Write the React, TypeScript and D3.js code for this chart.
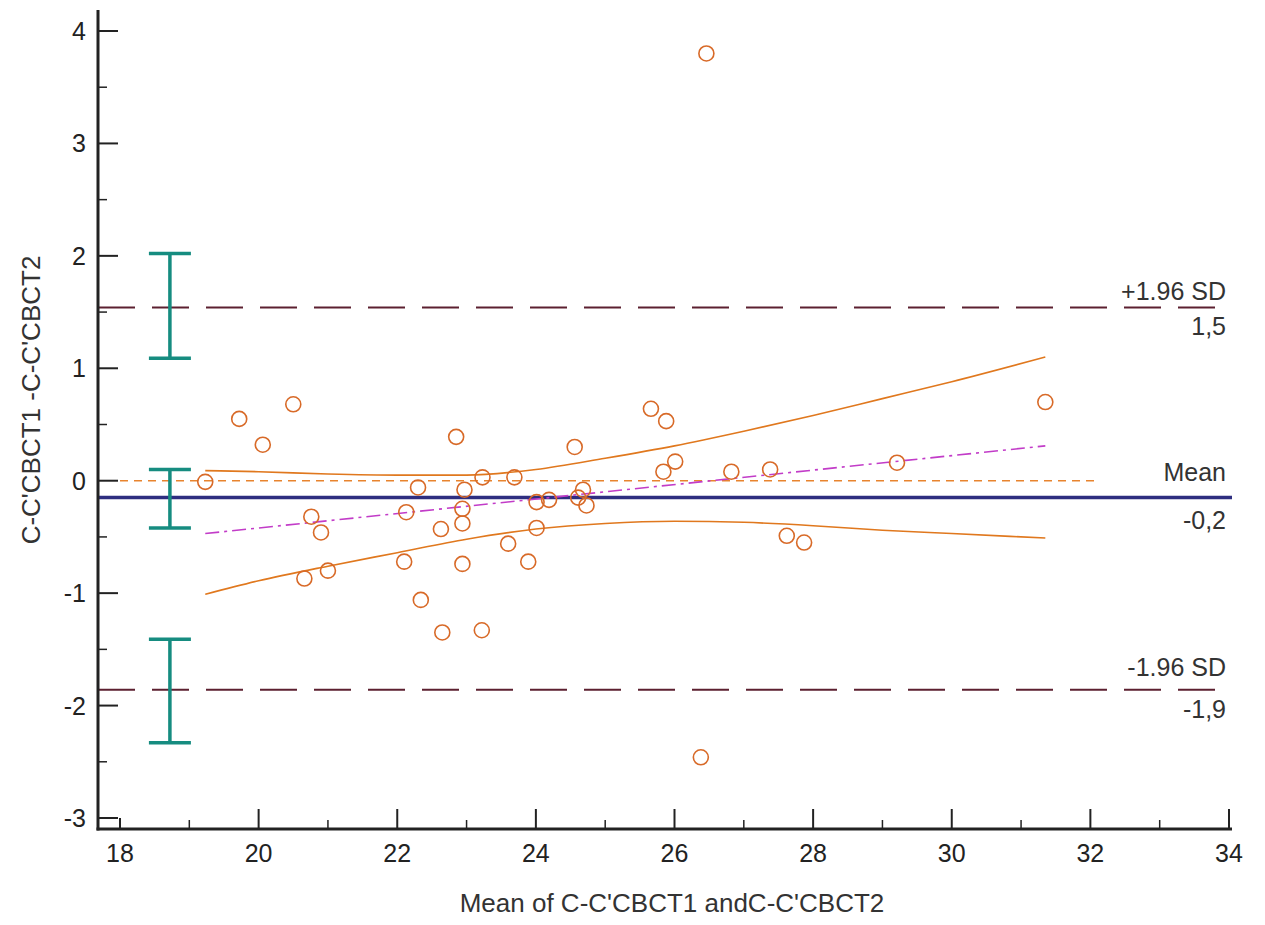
import React from "react";
import * as d3 from "d3";

const xTicks = [18, 20, 22, 24, 26, 28, 30, 32, 34];
const yTicks = [-3, -2, -1, 0, 1, 2, 3, 4];

const meanX = [19.23, 19.72, 20.06, 20.5, 20.66, 20.76, 20.9, 21.0, 22.1, 22.13, 22.3, 22.34, 22.63, 22.65, 22.85, 22.94, 22.94, 22.94, 22.97, 23.23, 23.22, 23.69, 24.01, 24.01, 23.6, 23.89, 24.19, 24.56, 24.68, 24.61, 24.73, 25.66, 25.88, 26.01, 25.84, 26.82, 27.38, 27.62, 27.87, 29.21, 31.35, 26.46, 26.38];
const diffY = [-0.01, 0.55, 0.32, 0.68, -0.87, -0.32, -0.46, -0.8, -0.72, -0.28, -0.06, -1.06, -0.43, -1.35, 0.39, -0.38, -0.25, -0.74, -0.08, 0.03, -1.33, 0.03, -0.19, -0.42, -0.56, -0.72, -0.17, 0.3, -0.08, -0.15, -0.22, 0.64, 0.53, 0.17, 0.08, 0.08, 0.1, -0.49, -0.55, 0.16, 0.7, 3.8, -2.46];

const meanDiff = -0.15;
const upperLoA = 1.54;
const lowerLoA = -1.86;
const meanLabel = "-0,2";
const upperLabel = "1,5";
const lowerLabel = "-1,9";

// regression line endpoints
const regX = [19.23, 31.35];
const regY = [-0.47, 0.31];

// confidence band curves
const bandX = [19.23, 20, 21, 22, 23, 24, 25, 26, 27, 28, 29, 30, 31.35];
const bandUpper = [0.09, 0.08, 0.06, 0.05, 0.05, 0.1, 0.2, 0.31, 0.44, 0.58, 0.73, 0.88, 1.1];
const bandLower = [-1.01, -0.89, -0.76, -0.64, -0.52, -0.43, -0.38, -0.36, -0.37, -0.4, -0.44, -0.47, -0.51];

// CI error bars at the left
const ciBars = [
  { lo: 1.09, hi: 2.02 },
  { lo: -0.42, hi: 0.1 },
  { lo: -2.33, hi: -1.41 },
];
const ciBarX = 18.72;

const FONT = "Arial, 'Liberation Sans', Helvetica, sans-serif";

export default function App() {
  const W = 1265;
  const H = 925;
  const x = d3.scaleLinear().domain([18, 34]).range([120, 1229]);
  const y = d3.scaleLinear().domain([-3, 4]).range([818, 31]);
  const axisX = 98;
  const axisY = 829;

  const minorX = d3.range(19, 34, 2);
  const minorY = d3.range(-2.5, 4, 1);

  const line = d3.line<[number, number]>().x((d) => x(d[0])).y((d) => y(d[1])).curve(d3.curveMonotoneX);
  const up = line(bandX.map((v, i) => [v, bandUpper[i]] as [number, number])) || "";
  const lo = line(bandX.map((v, i) => [v, bandLower[i]] as [number, number])) || "";

  const labelRight = 1226;
  const fs = 25;

  return (
    <svg width={W} height={H} style={{ display: "block", position: "absolute", left: 0, top: 0, background: "#fff" }}>
      {/* SD lines */}
      {[upperLoA, lowerLoA].map((v, i) => (
        <line key={"sd" + i} x1={axisX} x2={1229} y1={y(v)} y2={y(v)} stroke="#5c2030" strokeWidth={2} strokeDasharray="37,17" />
      ))}
      {/* zero line */}
      <line x1={x(18)} x2={x(32.1)} y1={y(0)} y2={y(0)} stroke="#e8842e" strokeWidth={1.5} strokeDasharray="8,6" />
      {/* mean line */}
      <line x1={axisX} x2={1232} y1={y(meanDiff)} y2={y(meanDiff)} stroke="#2e2e80" strokeWidth={3.5} />
      {/* CI band */}
      <path d={up} fill="none" stroke="#e0781e" strokeWidth={1.6} />
      <path d={lo} fill="none" stroke="#e0781e" strokeWidth={1.6} />
      {/* regression */}
      <line x1={x(regX[0])} x2={x(regX[1])} y1={y(regY[0])} y2={y(regY[1])} stroke="#c23cc8" strokeWidth={1.6} strokeDasharray="14,5,3,5" />
      {/* CI bars */}
      {ciBars.map((b, i) => (
        <g key={"ci" + i} stroke="#168c80" strokeWidth={3.5}>
          <line x1={x(ciBarX)} x2={x(ciBarX)} y1={y(b.lo)} y2={y(b.hi)} />
          <line x1={x(ciBarX) - 21} x2={x(ciBarX) + 21} y1={y(b.lo)} y2={y(b.lo)} />
          <line x1={x(ciBarX) - 21} x2={x(ciBarX) + 21} y1={y(b.hi)} y2={y(b.hi)} />
        </g>
      ))}
      {/* points */}
      {meanX.map((v, i) => (
        <circle key={"p" + i} cx={x(v)} cy={y(diffY[i])} r={7.5} fill="none" stroke="#d86a28" strokeWidth={1.6} />
      ))}
      {/* axes */}
      <line x1={axisX} x2={axisX} y1={10} y2={axisY + 1.5} stroke="#222" strokeWidth={3} />
      <line x1={axisX - 1.5} x2={1232} y1={axisY} y2={axisY} stroke="#222" strokeWidth={3} />
      {yTicks.map((t) => (
        <g key={"yt" + t}>
          <line x1={axisX} x2={axisX + 20} y1={y(t)} y2={y(t)} stroke="#222" strokeWidth={2} />
          <text x={axisX - 12} y={y(t)} dy="0.36em" textAnchor="end" fontFamily={FONT} fontSize={fs} fill="#222">{t}</text>
        </g>
      ))}
      {minorY.map((t) => (
        <line key={"ym" + t} x1={axisX} x2={axisX + 9} y1={y(t)} y2={y(t)} stroke="#222" strokeWidth={1.5} />
      ))}
      {xTicks.map((t) => (
        <g key={"xt" + t}>
          <line x1={x(t)} x2={x(t)} y1={axisY} y2={t === 18 ? y(-3) : axisY - 20} stroke="#222" strokeWidth={2} />
          <text x={x(t)} y={axisY + 24} dy="0.36em" textAnchor="middle" fontFamily={FONT} fontSize={fs} fill="#222">{t}</text>
        </g>
      ))}
      {minorX.map((t) => (
        <line key={"xm" + t} x1={x(t)} x2={x(t)} y1={axisY} y2={axisY - 9} stroke="#222" strokeWidth={1.5} />
      ))}
      {/* axis titles */}
      <text x={672} y={912} textAnchor="middle" fontFamily={FONT} fontSize={26} fill="#333">Mean of C-C'CBCT1 andC-C'CBCT2</text>
      <text transform={`translate(40,400) rotate(-90)`} textAnchor="middle" fontFamily={FONT} fontSize={26} fill="#333">C-C'CBCT1 -C-C'CBCT2</text>
      {/* right labels */}
      <text x={labelRight} y={y(upperLoA) - 8} textAnchor="end" fontFamily={FONT} fontSize={fs} fill="#333">+1.96 SD</text>
      <text x={labelRight} y={y(upperLoA) + 27} textAnchor="end" fontFamily={FONT} fontSize={fs} fill="#333">{upperLabel}</text>
      <text x={labelRight} y={y(meanDiff) - 17} textAnchor="end" fontFamily={FONT} fontSize={fs} fill="#333">Mean</text>
      <text x={labelRight} y={y(meanDiff) + 31} textAnchor="end" fontFamily={FONT} fontSize={fs} fill="#333">{meanLabel}</text>
      <text x={labelRight} y={y(lowerLoA) - 14} textAnchor="end" fontFamily={FONT} fontSize={fs} fill="#333">-1.96 SD</text>
      <text x={labelRight} y={y(lowerLoA) + 28} textAnchor="end" fontFamily={FONT} fontSize={fs} fill="#333">{lowerLabel}</text>
    </svg>
  );
}
